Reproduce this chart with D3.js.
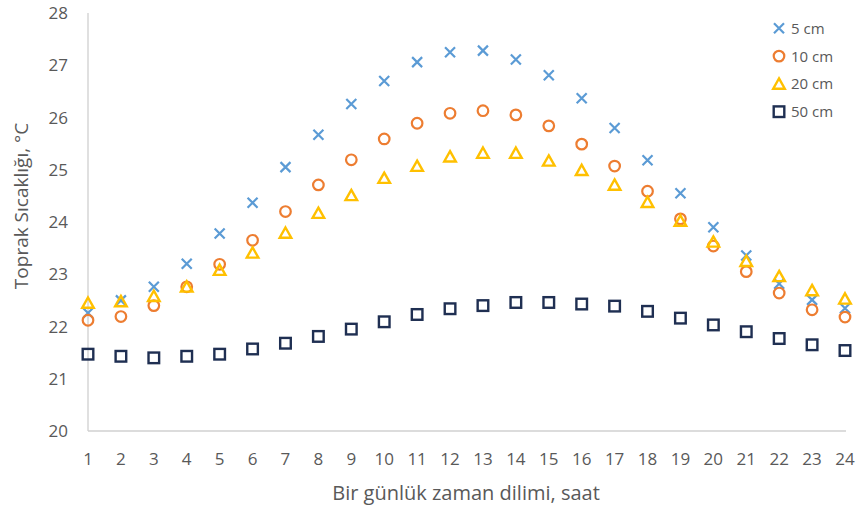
<!DOCTYPE html>
<html>
<head>
<meta charset="utf-8">
<script src="https://cdn.jsdelivr.net/npm/d3@7"></script>
<style>
  body { margin: 0; background: #fff; }
  text { font-family: "Open Sans", sans-serif; fill: #595959; }
</style>
</head>
<body>
<div id="chart"><svg></svg></div>
<script>
// hours of the day
const hours = d3.range(1, 25);
const seriesNames = ["5 cm", "10 cm", "20 cm", "50 cm"];
const yTicks = [20, 21, 22, 23, 24, 25, 26, 27, 28];

const cm5 = [22.26, 22.5, 22.76, 23.2, 23.78, 24.37, 25.05, 25.67, 26.26, 26.7, 27.06, 27.25,
             27.28, 27.11, 26.81, 26.37, 25.8, 25.18, 24.55, 23.9, 23.36, 22.82, 22.51, 22.35];
const cm10 = [22.12, 22.19, 22.4, 22.76, 23.19, 23.65, 24.2, 24.71, 25.19, 25.59, 25.89, 26.08,
              26.13, 26.05, 25.84, 25.49, 25.07, 24.59, 24.06, 23.54, 23.05, 22.64, 22.32, 22.18];
const cm20 = [22.45, 22.48, 22.58, 22.76, 23.08, 23.41, 23.79, 24.17, 24.51, 24.84, 25.07, 25.25,
              25.32, 25.32, 25.17, 24.99, 24.71, 24.38, 24.02, 23.62, 23.25, 22.96, 22.69, 22.53];
const cm50 = [21.47, 21.43, 21.4, 21.43, 21.47, 21.57, 21.68, 21.81, 21.95, 22.09, 22.23, 22.34,
              22.4, 22.46, 22.46, 22.43, 22.39, 22.29, 22.16, 22.03, 21.9, 21.77, 21.65, 21.54];

const colors = ["#5b9bd5", "#ed7d31", "#ffc000", "#1f2f52"];
const shapes = ["cross", "circle", "triangle", "square"];
const allSeries = [cm5, cm10, cm20, cm50];

const width = 857, height = 510;
const svg = d3.select("#chart").select("svg")
  .attr("width", width).attr("height", height);

const x = d3.scaleLinear().domain([1, 24]).range([88, 845]);
const y = d3.scaleLinear().domain([20, 28]).range([431, 13]);

// axis lines
svg.append("line").attr("x1", 88).attr("x2", 88).attr("y1", y(28)).attr("y2", y(20))
  .attr("stroke", "#d0d0d0").attr("stroke-width", 1.3);
svg.append("line").attr("x1", 88).attr("x2", 846).attr("y1", y(20)).attr("y2", y(20))
  .attr("stroke", "#d0d0d0").attr("stroke-width", 1.3);

// tick labels
svg.append("g").selectAll("text").data(yTicks).enter().append("text")
  .attr("x", 68).attr("y", d => y(d) + 6)
  .attr("text-anchor", "end").attr("font-size", 17)
  .text(d => d);

svg.append("g").selectAll("text").data(hours).enter().append("text")
  .attr("x", d => x(d)).attr("y", 465)
  .attr("text-anchor", "middle").attr("font-size", 17)
  .text(d => d);

// titles
svg.append("text").attr("x", 466).attr("y", 500).attr("text-anchor", "middle")
  .attr("font-size", 20).text("Bir günlük zaman dilimi, saat");
svg.append("text").attr("transform", "translate(28,206) rotate(-90)")
  .attr("text-anchor", "middle").attr("font-size", 19)
  .text("Toprak Sıcaklığı, °C");

function drawMarker(g, shape, color) {
  if (shape === "cross") {
    g.append("path").attr("d", "M-5,-5L5,5M-5,5L5,-5")
      .attr("stroke", color).attr("stroke-width", 2.2).attr("fill", "none");
  } else if (shape === "circle") {
    g.append("circle").attr("r", 5.3).attr("fill", "none")
      .attr("stroke", color).attr("stroke-width", 2.2);
  } else if (shape === "triangle") {
    g.append("path").attr("d", "M0,-5.5L5.8,4.8L-5.8,4.8Z").attr("fill", "none")
      .attr("stroke", color).attr("stroke-width", 2.4);
  } else {
    g.append("rect").attr("x", -5.3).attr("y", -5.3).attr("width", 10.6).attr("height", 10.6)
      .attr("fill", "none").attr("stroke", color).attr("stroke-width", 2.4);
  }
}

// draw back to front like Excel: later series on top
allSeries.forEach((vals, si) => {
  const grp = svg.append("g").attr("class", "series");
  vals.forEach((v, i) => {
    const g = grp.append("g").attr("transform", `translate(${x(hours[i])},${y(v)})`);
    drawMarker(g, shapes[si], colors[si]);
  });
});

// legend
const legend = svg.append("g").attr("transform", "translate(779,28.3)");
seriesNames.forEach((name, i) => {
  const g = legend.append("g").attr("transform", `translate(0,${i * 27.8})`);
  drawMarker(g, shapes[i], colors[i]);
  g.append("text").attr("x", 12).attr("y", 5.5).attr("font-size", 15).text(name);
});
</script>
</body>
</html>
